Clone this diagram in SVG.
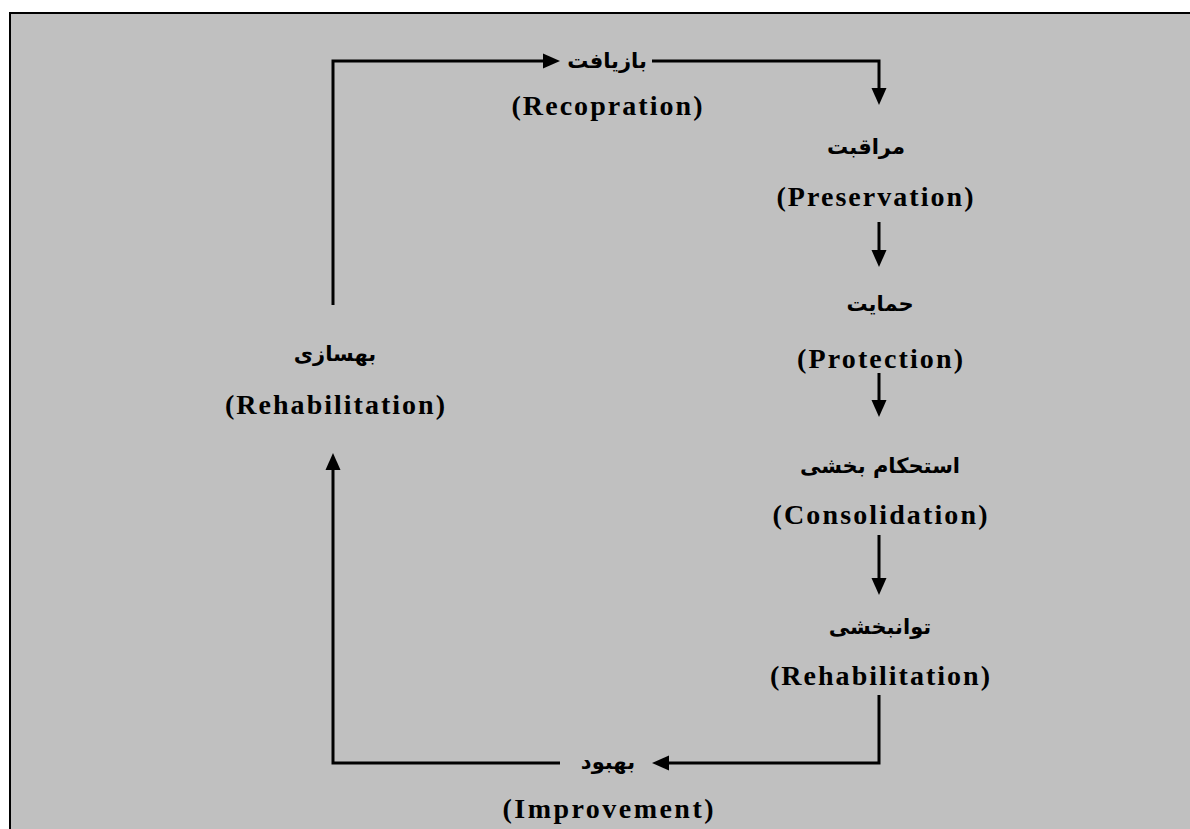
<svg xmlns="http://www.w3.org/2000/svg" width="1190" height="829" viewBox="0 0 1190 829">
<defs>
<style>
.en{font-family:"Liberation Serif","Times New Roman",serif;font-weight:bold;font-size:28px;fill:#000;text-anchor:middle}
.fa{font-family:"DejaVu Sans","Noto Sans",sans-serif;font-weight:bold;font-size:21px;fill:#000;text-anchor:middle}
.ar{fill:none;stroke:#000;stroke-width:3;marker-end:url(#ah)}
</style>
<marker id="ah" markerUnits="userSpaceOnUse" markerWidth="17" markerHeight="15" refX="9" refY="7.5" orient="auto" overflow="visible">
<path d="M0,0 L17,7.5 L0,15 Z" fill="#000"/>
</marker>
</defs>
<rect x="0" y="0" width="1190" height="829" fill="#fff"/>
<rect x="10" y="13" width="1200" height="840" fill="#c0c0c0" stroke="#000" stroke-width="2"/>
<g id="connectors">
<polyline class="ar" points="333,305 333,61 552,61"/>
<polyline class="ar" points="652,61 879,61 879,97"/>
<line class="ar" x1="879" y1="222" x2="879" y2="259"/>
<line class="ar" x1="879" y1="373" x2="879" y2="409"/>
<line class="ar" x1="879" y1="535" x2="879" y2="587"/>
<polyline class="ar" points="879,695 879,763 660,763"/>
<polyline class="ar" points="560,763 333,763 333,461"/>
</g>
<g id="node-recopration">
<text class="fa" x="607" y="68">بازیافت</text>
<text class="en" x="607" y="115" textLength="191" lengthAdjust="spacing">(Recopration)</text>
</g>
<g id="node-preservation">
<text class="fa" x="866" y="154">مراقبت</text>
<text class="en" x="875" y="206" textLength="197" lengthAdjust="spacing">(Preservation)</text>
</g>
<g id="node-protection">
<text class="fa" x="880" y="311">حمایت</text>
<text class="en" x="880" y="368" textLength="166" lengthAdjust="spacing">(Protection)</text>
</g>
<g id="node-consolidation">
<text class="fa" x="880" y="473">استحکام بخشی</text>
<text class="en" x="880" y="524" textLength="215" lengthAdjust="spacing">(Consolidation)</text>
</g>
<g id="node-rehabilitation-right">
<text class="fa" x="880" y="634">توانبخشی</text>
<text class="en" x="880" y="685" textLength="220" lengthAdjust="spacing">(Rehabilitation)</text>
</g>
<g id="node-improvement">
<text class="fa" x="608" y="769">بهبود</text>
<text class="en" x="608" y="818" textLength="211" lengthAdjust="spacing">(Improvement)</text>
</g>
<g id="node-rehabilitation-left">
<text class="fa" x="335" y="361">بهسازی</text>
<text class="en" x="335" y="414" textLength="220" lengthAdjust="spacing">(Rehabilitation)</text>
</g>
</svg>
